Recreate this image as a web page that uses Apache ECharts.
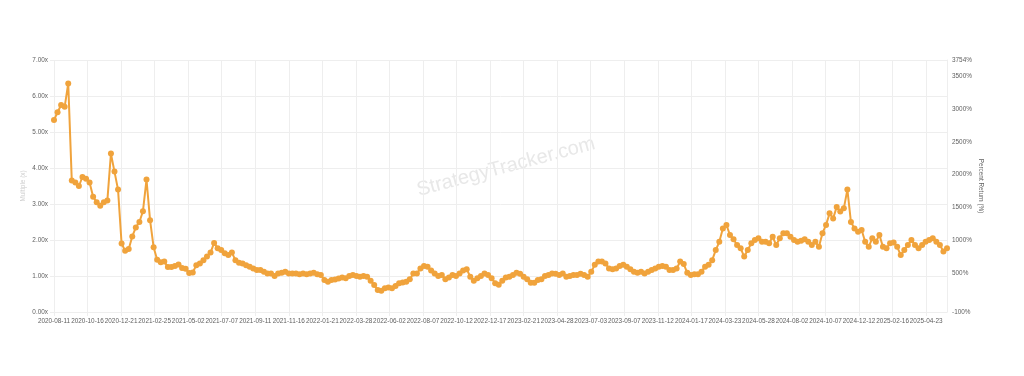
<!DOCTYPE html>
<html>
<head>
<meta charset="utf-8">
<script src="https://cdn.jsdelivr.net/npm/echarts@6/dist/echarts.min.js"></script>
<style>
  html, body { margin: 0; padding: 0; background: #fff; }
  #chartsCover { width: 1024px; height: 376px; }
</style>
</head>
<body>
<div id="chartsCover"></div>
<script>
  // weekly multiple readings, first point 2020-08-11, one point every 7 days
  var startDate = "2020-08-11";
  var stepDays = 7;
  var lastDay = 1757;   // last category index (2025-06-03)

  var mult2020 = [5.33, 5.55, 5.75, 5.7, 6.35, 3.65, 3.6, 3.5, 3.75, 3.7, 3.6, 3.2, 3.05, 2.95, 3.05, 3.1, 4.4, 3.9, 3.4, 1.9, 1.7];
  var mult2021 = [1.75, 2.1, 2.35, 2.5, 2.8, 3.68, 2.55, 1.8, 1.45, 1.38, 1.4, 1.25, 1.25, 1.28, 1.32, 1.22, 1.2, 1.08, 1.1,
                  1.3, 1.35, 1.44, 1.54, 1.65, 1.92, 1.77, 1.72, 1.63, 1.58, 1.65, 1.44, 1.37, 1.35, 1.3, 1.26, 1.21, 1.17, 1.17, 1.12,
                  1.07, 1.07, 1.0, 1.07, 1.09, 1.12, 1.07, 1.07, 1.07, 1.05, 1.07, 1.05, 1.07];
  var mult2022 = [1.09, 1.05, 1.03, 0.89, 0.84, 0.89, 0.9, 0.93, 0.96, 0.94, 1.0, 1.03, 1.0, 0.98, 1.0, 0.98, 0.87, 0.75,
                  0.61, 0.59, 0.66, 0.68, 0.66, 0.72, 0.8, 0.82, 0.84, 0.91, 1.07, 1.07, 1.21, 1.28, 1.26, 1.15, 1.07, 1.0, 1.03, 0.91,
                  0.96, 1.03, 1.0, 1.07, 1.15, 1.19, 0.98, 0.87, 0.94, 1.0, 1.07, 1.03, 0.94, 0.8];
  var mult2023 = [0.76, 0.87, 0.96, 0.98, 1.03, 1.09, 1.06, 0.98, 0.91, 0.81, 0.81, 0.89, 0.91, 1.0, 1.03, 1.07,
                  1.06, 1.03, 1.07, 0.98, 1.0, 1.03, 1.03, 1.06, 1.03, 0.98, 1.12, 1.31, 1.4, 1.4, 1.35, 1.21, 1.19, 1.21, 1.28, 1.31,
                  1.26, 1.19, 1.12, 1.09, 1.12, 1.07, 1.12, 1.17, 1.21, 1.26, 1.28, 1.26, 1.17, 1.17, 1.21, 1.4];
  var mult2024 = [1.33, 1.09, 1.03, 1.05, 1.05, 1.12, 1.26, 1.31, 1.44, 1.72, 1.95, 2.32, 2.42, 2.14,
                  2.02, 1.86, 1.77, 1.54, 1.72, 1.91, 2.0, 2.05, 1.95, 1.95, 1.91, 2.09, 1.86, 2.05, 2.19, 2.19, 2.09, 2.0, 1.95, 1.98,
                  2.02, 1.95, 1.86, 1.95, 1.81, 2.19, 2.42, 2.74, 2.6, 2.92, 2.79, 2.88, 3.4, 2.5, 2.32, 2.23, 2.28, 1.95];
  var mult2025 = [1.81, 2.05, 1.95, 2.14, 1.81, 1.77, 1.91, 1.93, 1.81, 1.58, 1.72, 1.86, 2.0, 1.86, 1.77, 1.86, 1.95, 2.0,
                  2.05, 1.95, 1.86, 1.68, 1.77];

  var leftTicks = [0, 1, 2, 3, 4, 5, 6, 7];
  var rightMin = -100, rightMax = 3754;
  var lineColor = "#F0A33C";

  // daily date categories
  var dates = new Array();
  var t0 = Date.parse(startDate + "T00:00:00Z");
  for (var i = 0; i <= lastDay; i++) {
    dates.push(new Date(t0 + i * 86400000).toISOString().slice(0, 10));
  }

  var allMult = mult2020.concat(mult2021, mult2022, mult2023, mult2024, mult2025);
  var seriesData = allMult.map(function (v, idx) { return [idx * stepDays, v]; });

  var labelFont = { fontSize: 6.4, color: "#5f5f5f", fontFamily: "Liberation Sans, Arial, sans-serif" };

  var chartsOption = {
    backgroundColor: "#fff",
    animation: false,
    grid: { left: 54, right: 77, top: 60, bottom: 64, containLabel: false, outerBoundsMode: "none" },
    graphic: [{
      type: "text",
      x: 506, y: 167,
      rotation: 0.26,
      silent: true,
      z: -10,
      style: {
        text: "StrategyTracker.com",
        x: 0, y: 0,
        align: "center",
        verticalAlign: "middle",
        fill: "#e8e8e8",
        font: "20px 'Liberation Sans', Arial, sans-serif"
      }
    }],
    xAxis: {
      type: "category",
      data: dates,
      boundaryGap: false,
      axisLine: { show: true, lineStyle: { color: "#eee" } },
      axisTick: { show: true, interval: 65, length: 4, lineStyle: { color: "#eee" } },
      axisLabel: Object.assign({ interval: 65, margin: 6 }, labelFont),
      splitLine: { show: true, interval: 65, lineStyle: { color: "#eee", width: 1 } }
    },
    yAxis: [{
      type: "value",
      position: "left",
      min: leftTicks[0],
      max: leftTicks[leftTicks.length - 1],
      interval: 1,
      name: "Multiple (x)",
      nameLocation: "middle",
      nameRotate: 90,
      nameGap: 28,
      nameMoveOverlap: false,
      nameTextStyle: { fontSize: 6.4, color: "#ccc" },
      axisLine: { show: false },
      axisTick: { show: true, length: 4, lineStyle: { color: "#eee" } },
      axisLabel: Object.assign({ margin: 6, formatter: function (v) { return v.toFixed(2) + "x"; } }, labelFont),
      splitLine: { show: true, lineStyle: { color: "#eee", width: 1 } }
    }, {
      type: "value",
      position: "right",
      min: rightMin,
      max: rightMax,
      splitNumber: 8,
      name: "Percent Return (%)",
      nameLocation: "middle",
      nameRotate: -90,
      nameGap: 31,
      nameMoveOverlap: false,
      nameTextStyle: { fontSize: 6.4, color: "#5f5f5f" },
      axisLine: { show: true, lineStyle: { color: "#eee" } },
      axisTick: { show: false },
      axisLabel: Object.assign({
        margin: 5,
        showMinLabel: true,
        showMaxLabel: true,
        formatter: function (v) { return v === 0 ? "" : v + "%"; }
      }, labelFont),
      splitLine: { show: false }
    }],
    series: [{
      name: "Multiple",
      type: "line",
      yAxisIndex: 0,
      data: seriesData,
      showSymbol: true,
      showAllSymbol: true,
      symbol: "circle",
      symbolSize: 6,
      lineStyle: { color: lineColor, width: 2 },
      itemStyle: { color: lineColor },
      emphasis: { disabled: true }
    }]
  };

  var myChart = echarts.init(document.getElementById("chartsCover"));
  chartsOption && myChart.setOption(chartsOption, true);
</script>
</body>
</html>
